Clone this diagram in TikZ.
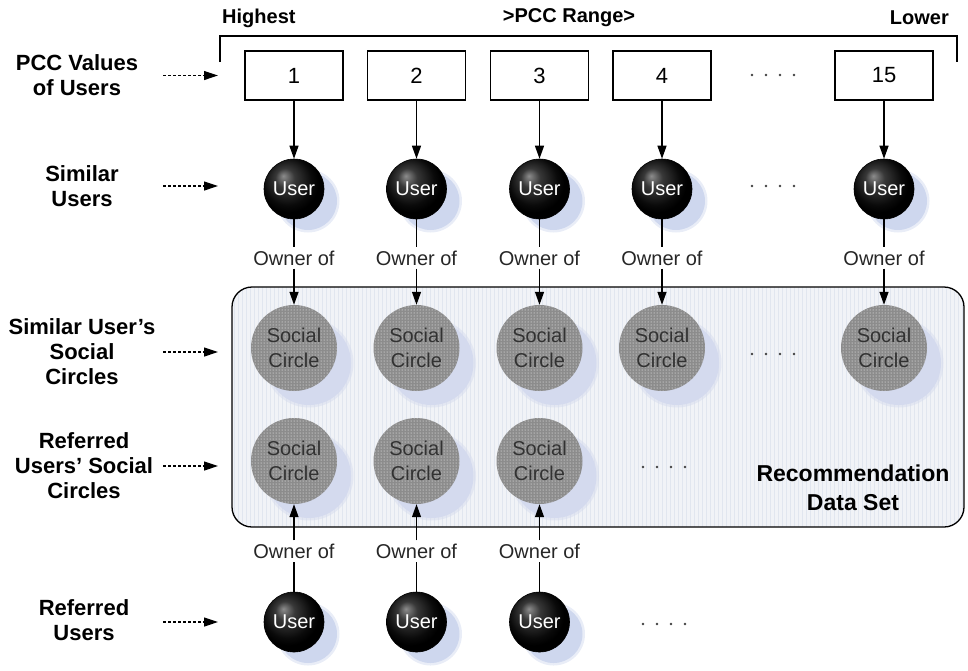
\documentclass[tikz,border=0pt]{standalone}
\usepackage{fontspec}
\setmainfont{Liberation Sans}
\usetikzlibrary{arrows.meta,patterns}

\definecolor{ushadow}{RGB}{206,215,238}
\definecolor{sshadow}{RGB}{212,218,238}
\definecolor{setfill}{RGB}{241,243,247}
\definecolor{setgrid}{RGB}{225,230,239}
\definecolor{circlegray}{RGB}{140,140,140}
\definecolor{circletext}{RGB}{50,50,50}

% glossy black disc for the user nodes
\pgfdeclareradialshading{userball}{\pgfpoint{-9bp}{11bp}}{%
  color(0bp)=(black!45); color(8bp)=(black!78); color(20bp)=(black!96);
  color(25bp)=(black); color(50bp)=(black)}

% four small dots marking omitted columns
\newcommand\fourdots[2]{%
  \foreach \d in {-21,-7,7,21}{\fill[black!75] (#1+\d,#2) circle (1.4);}}

% soft-edged drop shadow disc
\newcommand\softdisc[4]{% colour, x, y, radius
  \fill[#1, opacity=0.45] (#2,#3) circle (#4+1.5);
  \fill[#1] (#2,#3) circle (#4-1);}

\tikzset{
  sidelabel/.style={font=\bfseries\fontsize{22}{25}\selectfont, align=center, inner sep=0},
  toplabel/.style={font=\bfseries\fontsize{20}{22}\selectfont, inner sep=0},
  setlabel/.style={font=\bfseries\fontsize{23}{29}\selectfont, align=center, inner sep=0},
  pccbox/.style={draw, line width=1.3, minimum width=98, minimum height=49,
    inner sep=0, font=\fontsize{22}{24}\selectfont},
  userdisc/.style={circle, draw=black, line width=0.6, minimum size=60, inner sep=0,
    shading=userball, text=white, font=\fontsize{20}{22}\selectfont},
  socialdisc/.style={circle, minimum size=86, inner sep=0, fill=circlegray,
    postaction={pattern=dots, pattern color=white},
    text=circletext, align=center, font=\fontsize{20}{25}\selectfont},
  ownerlabel/.style={inner sep=3, text=black!85, font=\fontsize{20}{22}\selectfont},
  panel/.style={draw, line width=1.3, rounded corners=20, fill=setfill,
    path picture={\draw[setgrid, line width=0.4, step=4]
      (path picture bounding box.south west) grid (path picture bounding box.north east);}},
  flow/.style={line width=1.3, -{Triangle[length=13pt,width=9pt]}},
  link/.style={line width=1.3},
  pointer/.style={line width=1.2, dash pattern=on 3pt off 2pt,
    -{Triangle[length=14pt,width=9pt]}},
}

\begin{document}
\begin{tikzpicture}[x=1pt,y=-1pt]
\useasboundingbox (0,0) rectangle (968,670);

% recommendation data set panel
\node[panel, minimum width=732, minimum height=240] (dataset) at (598,407) {};
\node[setlabel] (dslabel) at (853,488) {Recommendation\\Data Set};

% PCC range bracket
\coordinate (brl) at (220,62);
\coordinate (brtl) at (220,36);
\coordinate (brtr) at (957,36);
\coordinate (brr) at (957,62);
\draw[line width=1.3] (brl) -- (brtl) -- (brtr) -- (brr);
\node[toplabel, anchor=west] (hi) at (222,18) {Highest};
\node[toplabel] (rng) at (569,18) {>PCC Range>};
\node[toplabel, anchor=east] (lo) at (949,18) {Lower};

% row labels on the left
\node[sidelabel] (l1) at (77,75.5) {PCC Values\\of Users};
\node[sidelabel] (l2) at (82,186) {Similar\\Users};
\node[sidelabel] (l3) at (82,352) {Similar User’s\\Social\\Circles};
\node[sidelabel] (l4) at (84,466) {Referred\\Users’ Social\\Circles};
\node[sidelabel] (l5) at (84,620) {Referred\\Users};
\foreach \k/\y in {1/75.5, 2/186, 3/352, 4/466, 5/622} {
  \coordinate (ps\k) at (163,\y);
  \coordinate (pe\k) at (218,\y);
  \draw[pointer] (ps\k) -- (pe\k);
}

% similar users: PCC value -> user -> social circle
\foreach \n/\x/\t in {1/294/1, 2/416.5/2, 3/539.5/3, 4/662/4, 5/884/15} {
  \node[pccbox] (b\n) at (\x,75.5) {\t};
  \softdisc{ushadow}{\x+14}{201}{30}
  \node[userdisc] (u\n) at (\x,189) {User};
  \node[ownerlabel] (o\n) at (\x,258) {Owner of};
  \softdisc{sshadow}{\x+15}{363}{43}
  \node[socialdisc] (s\n) at (\x,348) {Social\\Circle};
  \draw[flow] (b\n) -- (u\n);
  \draw[link] (u\n) -- (o\n);
  \draw[flow] (o\n) -- (s\n);
}

% referred users and their social circles
\foreach \n/\x in {1/294, 2/416.5, 3/539.5} {
  \softdisc{sshadow}{\x+15}{476}{43}
  \node[socialdisc] (r\n) at (\x,461) {Social\\Circle};
  \node[ownerlabel] (p\n) at (\x,551) {Owner of};
  \softdisc{ushadow}{\x+14}{634}{30}
  \node[userdisc] (v\n) at (\x,622) {User};
  \draw[link] (v\n) -- (p\n);
  \draw[flow] (p\n) -- (r\n);
}

% omitted columns
\fourdots{773}{75}
\fourdots{773}{186}
\fourdots{773}{354}
\fourdots{664}{467}
\fourdots{664}{624}
\end{tikzpicture}
\end{document}
